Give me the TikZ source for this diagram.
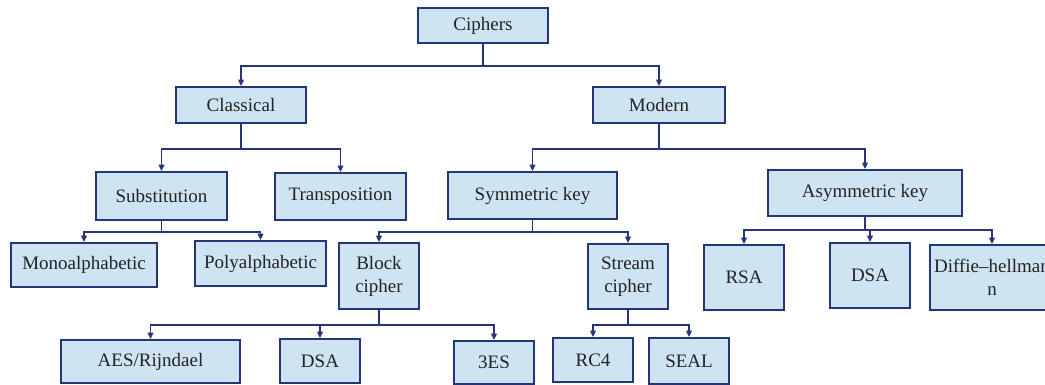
\documentclass[tikz,border=0pt]{standalone}
\usepackage{fontspec}
\setmainfont{Liberation Serif}
\usetikzlibrary{arrows.meta}
\usepackage{xcolor}
\definecolor{cfill}{RGB}{207,228,242}
\definecolor{cline}{RGB}{38,52,120}
\definecolor{ctext}{RGB}{35,35,35}

\begin{document}
\begin{tikzpicture}[x=1pt,y=-1pt,
  box/.style={draw=cline,fill=cfill,line width=1.6pt,inner sep=2pt,
              align=center,text=ctext,font=\fontsize{19}{23}\selectfont},
  arr/.style={-{Triangle[length=6.5pt,width=5.5pt]},cline,line width=1.6pt}
]
\useasboundingbox (0,0) rectangle (1045,385);
% levels 0 and 1
\node[box,minimum width=130pt,minimum height=35pt] (ciphers)   at (483,25.5) {Ciphers};
\node[box,minimum width=130pt,minimum height=36pt] (classical) at (241,105)  {Classical};
\node[box,minimum width=132pt,minimum height=36pt] (modern)    at (659,105)  {Modern};
% level 2
\node[box,minimum width=131pt,minimum height=48pt] (subst)  at (161.5,196) {Substitution};
\node[box,minimum width=131pt,minimum height=47pt] (transp) at (340.5,196.5) {Transposition};
\node[box,minimum width=169pt,minimum height=47pt] (symm)   at (532.5,195.5) {Symmetric key};
\node[box,minimum width=194pt,minimum height=46pt] (asymm)  at (865,193) {Asymmetric key};
% level 3
\node[box,minimum width=146pt,minimum height=44pt] (mono)   at (84,265)    {Monoalphabetic};
\node[box,minimum width=131pt,minimum height=45pt] (poly)   at (260.5,263.5) {Polyalphabetic};
\node[box,minimum width=80pt,minimum height=66pt]  (block)  at (379,276)   {Block\\cipher};
\node[box,minimum width=80pt,minimum height=65pt]  (stream) at (628,276.5) {Stream\\cipher};
\node[box,minimum width=80pt,minimum height=65pt]  (rsa)    at (744,277.5) {RSA};
\node[box,minimum width=80pt,minimum height=65pt]  (dsaa)   at (870,275.5) {DSA};
\node[box,minimum width=124pt,minimum height=65pt] (diffie) at (992,277.5) {Diffie–hellman\\n};
% level 4
\node[box,minimum width=179pt,minimum height=43pt] (aes)  at (150.5,361.5) {AES/Rijndael};
\node[box,minimum width=80pt,minimum height=44pt]  (dsab) at (320,361)     {DSA};
\node[box,minimum width=80pt,minimum height=43pt]  (tes)  at (494,362.5)   {3ES};
\node[box,minimum width=80pt,minimum height=44pt]  (rc4)  at (593,360)     {RC4};
\node[box,minimum width=80pt,minimum height=46pt]  (seal) at (689,361)     {SEAL};
% connectors
\draw[arr] (ciphers.south) -- ++(0,22) -| (classical.north);
\draw[arr] (ciphers.south) -- ++(0,22) -| (modern.north);
\draw[arr] (classical.south) -- ++(0,25) -| (subst.north);
\draw[arr] (classical.south) -- ++(0,25) -| (transp.north);
\draw[arr] (modern.south) -- ++(0,25) -| (symm.north);
\draw[arr] (modern.south) -- ++(0,25) -| (asymm.north);
\draw[arr] (subst.south) -- ++(0,11) -| (mono.north);
\draw[arr] (subst.south) -- ++(0,11) -| (poly.north);
\draw[arr] (symm.south) -- ++(0,12) -| (block.north);
\draw[arr] (symm.south) -- ++(0,12) -| (stream.north);
\draw[arr] (asymm.south) -- ++(0,13) -| (rsa.north);
\draw[arr] (asymm.south) -- ++(0,13) -| (dsaa.north);
\draw[arr] (asymm.south) -- ++(0,13) -| (diffie.north);
\draw[arr] (block.south) -- ++(0,15) -| (aes.north);
\draw[arr] (block.south) -- ++(0,15) -| (dsab.north);
\draw[arr] (block.south) -- ++(0,15) -| (tes.north);
\draw[arr] (stream.south) -- ++(0,15) -| (rc4.north);
\draw[arr] (stream.south) -- ++(0,15) -| (seal.north);
\end{tikzpicture}
\end{document}
